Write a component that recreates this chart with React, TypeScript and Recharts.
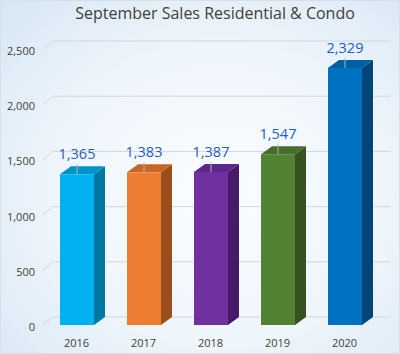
import React from 'react';
import { BarChart, Bar, XAxis, YAxis, CartesianGrid, LabelList } from 'recharts';

const years = ['2016', '2017', '2018', '2019', '2020'];
const sales = [1365, 1383, 1387, 1547, 2329];
const frontColors = ['#00b0f0', '#ed7d31', '#7030a0', '#548235', '#0070c0'];
const topColors = ['#0093c9', '#c86424', '#5d2787', '#466d2c', '#005ea3'];
const sideColors = ['#00789f', '#9a4e1b', '#461a66', '#35521f', '#004478'];
const yTicks = [0, 500, 1000, 1500, 2000, 2500];

const data = years.map((year, i) => ({ year, sales: sales[i] }));

// depth of the fake 3D effect
const DX = 10;
const DY = 8;

const font = '"Open Sans", sans-serif';

function Bar3D(props: any) {
  const { x, y, width, height, index } = props;
  const side = `M${x + width},${y} L${x + width + DX * 1.1},${y - DY} L${x + width + DX * 1.1},${y + height - DY} L${x + width},${y + height} Z`;
  const top = `M${x},${y} L${x + width},${y} L${x + width + DX * 1.1},${y - DY} L${x + DX * 1.1},${y - DY} Z`;
  return (
    <g>
      <path d={side} fill={sideColors[index]} />
      <path d={top} fill={topColors[index]} />
      <rect x={x} y={y} width={width} height={height} fill={frontColors[index]} />
    </g>
  );
}

function GridLine(props: any) {
  const { x1, y1, x2, y2 } = props;
  return (
    <path
      key={props.key}
      d={`M${x1},${y1} L${x1 + DX},${y1 - DY} L${x2 + DX + 2},${y2 - DY}`}
      fill="none"
      stroke="#d4d7db"
      strokeWidth={1}
    />
  );
}

function ValueLabel(props: any) {
  const { x, y, width, value } = props;
  const cx = x + width / 2;
  return (
    <g>
      <line x1={cx} x2={cx} y1={y - 10} y2={y} stroke="#b0b4b8" strokeWidth={1} />
      <text x={cx} y={y - 20} dy="0.35em" textAnchor="middle" fill="#1f5fbf" fontSize={14.5} fontFamily={font}>
        {value.toLocaleString('en-US')}
      </text>
    </g>
  );
}

export default function App() {
  return (
    <div
      style={{
        position: 'absolute',
        left: 0,
        top: 0,
        width: 398,
        height: 352,
        border: '1px solid #d5e0ea',
        background: 'radial-gradient(ellipse at 55% 55%, #fbfdff 0%, #eef5fb 55%, #d6e6f4 100%)',
      }}
    >
      <div
        style={{
          position: 'absolute',
          top: 1,
          left: 0,
          width: 428,
          textAlign: 'center',
          fontFamily: font,
          fontSize: 16,
          color: '#404040',
        }}
      >
        September Sales Residential &amp; Condo
      </div>
      <BarChart
        width={400}
        height={354}
        data={data}
        margin={{ top: 49, right: 22, left: -1, bottom: 0 }}
        style={{ position: 'absolute', left: -1, top: -1 }}
      >
        <CartesianGrid vertical={false} horizontal={(p: any) => <GridLine {...p} />} />
        <XAxis
          dataKey="year"
          axisLine={false}
          tickLine={false}
          height={29}
          tickMargin={8}
          tick={{ fill: '#404040', fontSize: 11, fontFamily: font }}
        />
        <YAxis
          domain={[0, 2500]}
          ticks={yTicks}
          width={44}
          axisLine={false}
          tickLine={false}
          tickFormatter={(v: number) => v.toLocaleString('en-US')}
          tick={{ fill: '#404040', fontSize: 11, fontFamily: font, dy: 2 }}
        />
        <Bar dataKey="sales" barSize={34} shape={(p: any) => <Bar3D {...p} />} isAnimationActive={false}>
          <LabelList dataKey="sales" content={(p: any) => <ValueLabel {...p} />} />
        </Bar>
      </BarChart>
    </div>
  );
}
